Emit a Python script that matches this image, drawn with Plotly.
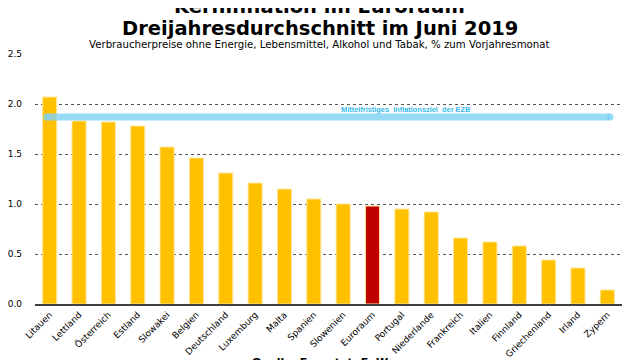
import plotly.graph_objects as go

countries = ["Litauen", "Lettland", "Österreich", "Estland", "Slowakei", "Belgien",
             "Deutschland", "Luxemburg", "Malta", "Spanien", "Slowenien", "Euroraum",
             "Portugal", "Niederlande", "Frankreich", "Italien", "Finnland",
             "Griechenland", "Irland", "Zypern"]
values = [2.07, 1.83, 1.82, 1.78, 1.57, 1.46, 1.31, 1.21, 1.15, 1.05, 1.00, 0.98,
          0.95, 0.92, 0.66, 0.62, 0.58, 0.44, 0.36, 0.14]
target_value = 1.87
target_label = "Mittelfristiges  Inflationsziel  der EZB"
yticks = [0.0, 0.5, 1.0, 1.5, 2.0, 2.5]

colors = ["#C00000" if c == "Euroraum" else "#FFC000" for c in countries]
n = len(countries)

fig = go.Figure()
fig.add_trace(go.Bar(
    x=list(range(n)), y=values, marker=dict(color=colors, line=dict(color="#FFE699", width=1)),
    width=0.48, showlegend=False, hoverinfo="skip"))
fig.add_trace(go.Scatter(
    x=[-0.1, n - 0.91], y=[target_value, target_value], mode="lines+markers",
    line=dict(color="rgba(125,210,245,0.8)", width=7),
    marker=dict(size=7, color="rgba(125,210,245,0.8)"),
    showlegend=False, hoverinfo="skip"))

fig.update_layout(
    width=640, height=360,
    margin=dict(l=27, r=26, t=46, b=64, autoexpand=False),
    paper_bgcolor="white", plot_bgcolor="white",
    font=dict(family="DejaVu Sans", size=9, color="#000"),
    bargap=0.5,
    xaxis=dict(range=[-0.5, n - 0.5], tickmode="array", tickvals=list(range(n)),
               ticktext=countries, tickangle=-45, showgrid=False, automargin=False,
               showline=True, linecolor="#404040", linewidth=2, ticks="",
               tickfont=dict(family="DejaVu Sans", size=9), zeroline=False),
    yaxis=dict(range=[0, 2.5], tickmode="array", tickvals=yticks, automargin=False,
               ticktext=[f"{v:.1f}" for v in yticks], showgrid=True, ticklabelstandoff=12,
               gridcolor="#555", griddash="dot", gridwidth=1, zeroline=False,
               showline=False, ticks="", tickfont=dict(family="DejaVu Sans", size=9)),
    annotations=[
        dict(text="<b>Kerninflation im Euroraum</b>", x=0.4855, y=1.19, xref="paper", yref="paper",
             yanchor="middle", showarrow=False, font=dict(family="DejaVu Sans", size=19.5)),
        dict(text="<b>Dreijahresdurchschnitt im Juni 2019</b>", x=0.4855, y=1.1, xref="paper", yref="paper",
             yanchor="middle", showarrow=False, font=dict(family="DejaVu Sans", size=19.5)),
        dict(text="Verbraucherpreise ohne Energie, Lebensmittel, Alkohol und Tabak, % zum Vorjahresmonat",
             x=0.4847, y=1.038, xref="paper", yref="paper", yanchor="middle", showarrow=False,
             font=dict(family="DejaVu Sans", size=10.2)),
        dict(text="<b>" + target_label + "</b>", x=12.14, y=target_value, xref="x", yref="y",
             yshift=8, showarrow=False, font=dict(family="Liberation Sans", size=7.4, color="#33BBEE")),
        dict(text="<b>Quelle: Eurostat, EuW</b>", x=0.4855, y=-0.2, xref="paper", yref="paper",
             yanchor="top", showarrow=False, font=dict(family="DejaVu Sans", size=11)),
    ],
    shapes=[dict(type="rect", xref="paper", yref="paper", x0=-0.056, x1=1.0222,
                 y0=-1, y1=1.5, line=dict(color="#888", width=1))],
)
fig.write_html("out.html")
